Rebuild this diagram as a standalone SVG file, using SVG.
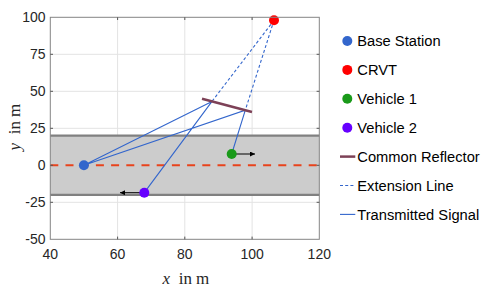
<svg xmlns="http://www.w3.org/2000/svg" width="490" height="294" viewBox="0 0 490 294">
<style>
.grid{stroke:#e3e3e3;stroke-width:1;fill:none}
.tick{stroke:#555;stroke-width:1}
.tl{font-family:"Liberation Sans",Arial,sans-serif;font-size:14px;fill:#262626}
.lg{font-family:"Liberation Sans",Arial,sans-serif;font-size:14.7px;fill:#000}
.ax{font-family:"Liberation Serif","Times New Roman",serif;font-size:17px;fill:#262626}
.sig{stroke:#3366cc;stroke-width:1.1;fill:none}
.ext{stroke:#3366cc;stroke-width:1.1;fill:none;stroke-dasharray:3 2.2}
.refl{stroke:#7d4157;stroke-width:2.5;fill:none}
.arr{stroke:#000;stroke-width:1;fill:none}
</style>
<defs>
<marker id="ah" viewBox="0 0 10 10" refX="10" refY="5" markerWidth="6" markerHeight="5" markerUnits="userSpaceOnUse" orient="auto">
<path d="M0,0 L10,5 L0,10 z" fill="#000"/>
</marker>
</defs>
<rect x="0" y="0" width="490" height="294" fill="#fff"/>
<g id="axes-grid">
<path class="grid" d="M117.6,17.3V239.3M184.8,17.3V239.3M252.1,17.3V239.3M50.3,54.3H319.3M50.3,91.3H319.3M50.3,128.3H319.3M50.3,202.3H319.3"/>
</g>
<g id="road">
<rect x="50.3" y="135.7" width="269" height="59.2" fill="#cccccc"/>
<path d="M50.3,135.7H319.3M50.3,194.9H319.3" stroke="#808080" stroke-width="2.2"/>
<path d="M50.3,165.3H319.3" stroke="#e8431c" stroke-width="2" stroke-dasharray="8 7.2"/>
</g>
<g id="connectors">
<path class="ext" d="M274,20.3L212,101.4M274,20.3L245.3,110.2"/>
<path class="sig" d="M83.9,165.3L212,101.4L144.3,192.7M83.9,165.3L245.3,110.2L231.7,154"/>
<path class="arr" marker-end="url(#ah)" d="M231.7,154H255"/>
<path class="arr" marker-end="url(#ah)" d="M144.3,192.7H120"/>
</g>
<g id="reflector"><path class="refl" d="M202,98.7L252,112"/></g>
<g id="base-station"><circle cx="83.9" cy="165.3" r="5" fill="#3366cc"/></g>
<g id="crvt"><circle cx="274" cy="20.3" r="5" fill="#ff0000"/></g>
<g id="vehicle1"><circle cx="231.7" cy="154" r="5" fill="#1a9a1a"/></g>
<g id="vehicle2"><circle cx="144.3" cy="192.7" r="5" fill="#6600ff"/></g>
<g id="axes-box">
<rect x="50.3" y="17.3" width="269" height="222" fill="none" stroke="#858585" stroke-width="1"/>
<path class="tick" d="M50.3,54.3h2.7M50.3,91.3h2.7M50.3,128.3h2.7M50.3,165.3h2.7M50.3,202.3h2.7M319.3,54.3h-2.7M319.3,91.3h-2.7M319.3,128.3h-2.7M319.3,165.3h-2.7M319.3,202.3h-2.7M117.6,239.3v-2.7M184.8,239.3v-2.7M252.1,239.3v-2.7M117.6,17.3v2.7M184.8,17.3v2.7M252.1,17.3v2.7"/>
<g class="tl" text-anchor="end">
<text x="45.5" y="22.3">100</text>
<text x="45.5" y="59.3">75</text>
<text x="45.5" y="96.3">50</text>
<text x="45.5" y="133.3">25</text>
<text x="45.5" y="170.3">0</text>
<text x="45.5" y="207.3">-25</text>
<text x="45.5" y="244.3">-50</text>
</g>
<g class="tl" text-anchor="middle">
<text x="50.3" y="259">40</text>
<text x="117.6" y="259">60</text>
<text x="184.8" y="259">80</text>
<text x="252.1" y="259">100</text>
<text x="319.3" y="259">120</text>
</g>
<text class="ax" y="284"><tspan x="162.5" font-style="italic">x</tspan><tspan x="178.8">in</tspan><tspan x="196">m</tspan></text>
<text class="ax" transform="translate(19.5,128.3) rotate(-90)"><tspan x="-22.3" font-style="italic">y</tspan><tspan x="-6">in</tspan><tspan x="11.2">m</tspan></text>
</g>
<g id="legend">
<circle cx="347.3" cy="41" r="5" fill="#3366cc"/>
<circle cx="347.3" cy="69.9" r="5" fill="#ff0000"/>
<circle cx="347.3" cy="98.8" r="5" fill="#1a9a1a"/>
<circle cx="347.3" cy="127.7" r="5" fill="#6600ff"/>
<path class="refl" d="M340,156.6H355.3"/>
<path class="ext" d="M340,185.5H355.3"/>
<path class="sig" d="M340,214.4H355.3"/>
<text class="lg" x="357.3" y="46.3">Base Station</text>
<text class="lg" x="357.3" y="75.2">CRVT</text>
<text class="lg" x="357.3" y="104.1">Vehicle 1</text>
<text class="lg" x="357.3" y="133">Vehicle 2</text>
<text class="lg" x="357.3" y="161.9">Common Reflector</text>
<text class="lg" x="357.3" y="190.8">Extension Line</text>
<text class="lg" x="357.3" y="219.7">Transmitted Signal</text>
</g>
</svg>
